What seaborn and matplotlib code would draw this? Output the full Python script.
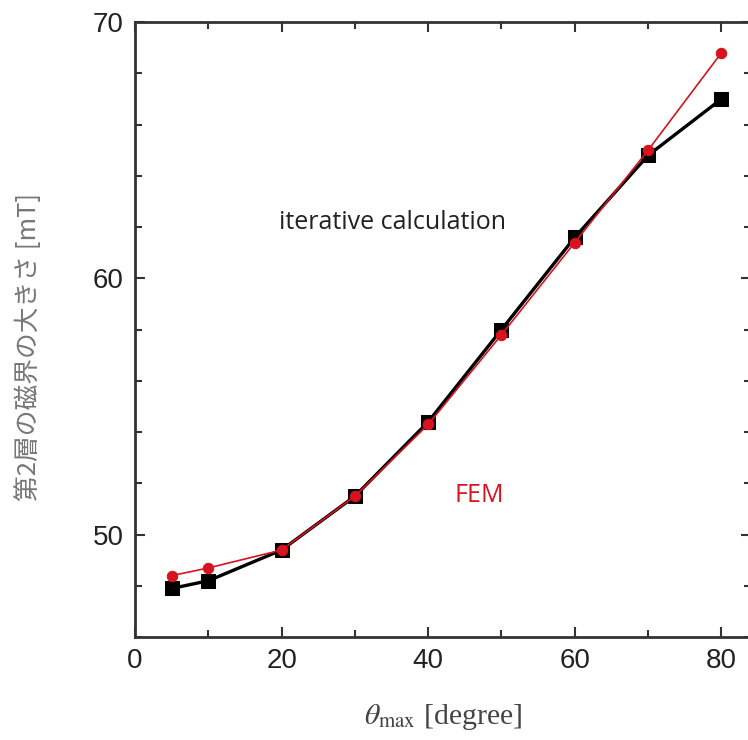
import matplotlib
matplotlib.use("Agg")
import matplotlib.pyplot as plt
import pandas as pd
import seaborn as sns
from matplotlib.ticker import MultipleLocator

theta_max = [5, 10, 20, 30, 40, 50, 60, 70, 80]
iterative_mT = [47.9, 48.2, 49.4, 51.5, 54.4, 58.0, 61.6, 64.8, 67.0]
fem_mT = [48.4, 48.7, 49.4, 51.5, 54.3, 57.8, 61.4, 65.0, 68.8]

sns.set_style("ticks")
plt.rcParams["font.family"] = ["Liberation Sans", "DejaVu Sans"]
plt.rcParams["mathtext.fontset"] = "stix"

df = pd.DataFrame({"theta": theta_max, "iterative": iterative_mT, "fem": fem_mT})

fig = plt.figure(figsize=(7.48, 7.40), dpi=100)
ax = fig.add_axes([0.1805, 0.139, 0.823, 0.831])

sns.lineplot(data=df, x="theta", y="iterative", ax=ax, color="black", lw=2.4,
             marker="s", markersize=10, markeredgecolor="black")
sns.lineplot(data=df, x="theta", y="fem", ax=ax, color="#d7131f", lw=1.2,
             marker="o", markersize=7.5, markeredgecolor="#d7131f")

ax.set_xlim(0, 84)
ax.set_ylim(46, 70)
ax.xaxis.set_major_locator(MultipleLocator(20))
ax.xaxis.set_minor_locator(MultipleLocator(10))
ax.yaxis.set_major_locator(MultipleLocator(10))
ax.yaxis.set_minor_locator(MultipleLocator(2))
ax.tick_params(which="both", direction="in", top=True, right=True,
               colors="#333333", width=1.5, labelsize=20, labelcolor="#222222")
ax.tick_params(which="major", length=7, pad=8)
ax.tick_params(which="minor", length=5)
for side in ax.spines.values():
    side.set_linewidth(2)
    side.set_color("#333333")

ax.text(0.419, 0.675, "iterative calculation", transform=ax.transAxes,
        ha="center", va="center", fontsize=18, color="#222222", family="Open Sans")
ax.text(0.559, 0.231, "FEM", transform=ax.transAxes,
        ha="center", va="center", fontsize=18, color="#d7131f", family="Open Sans")

ax.set_xlabel(r"$\theta_{\rm max}$ [degree]", fontsize=21.5, color="#444444",
              family=["Liberation Serif", "DejaVu Serif"], labelpad=20)
ax.set_ylabel("第2層の磁界の大きさ [mT]", fontsize=18.5, color="#777777",
              family=["Noto Sans CJK JP", "DejaVu Sans"])
ax.yaxis.set_label_coords(-0.151, 0.472)

fig.savefig("out.png", dpi=100)
